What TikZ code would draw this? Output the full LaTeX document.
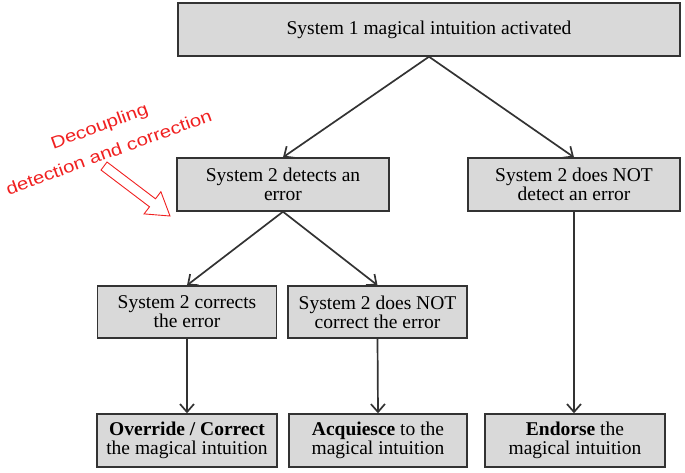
\documentclass[tikz,border=0pt]{standalone}
\usepackage{fontspec}
\setmainfont{Liberation Serif}
\newfontfamily\notefont{Liberation Sans}
\usetikzlibrary{arrows.meta}
\definecolor{boxgray}{HTML}{D9D9D9}
\definecolor{linegray}{HTML}{333333}
\definecolor{notered}{HTML}{F02020}
\begin{document}
\begin{tikzpicture}[x=1pt, y=-1pt,
    box/.style={draw=linegray, line width=1.4pt, fill=boxgray, align=center,
                inner sep=0pt, font=\fontsize{19.5}{19}\selectfont},
    link/.style={draw=linegray, line width=1.7pt, -{Straight Barb[length=8pt,width=14pt]}},
    note/.style={text=notered, align=center, font=\notefont\fontsize{17}{28}\selectfont, rotate=20, xscale=1.2}]
    \useasboundingbox (0,0) rectangle (685,472);
    % boxes
    \node[box, minimum width=502, minimum height=53] (sysone) at (429,29.5) {System 1 magical intuition activated};
    \node[box, minimum width=212, minimum height=53] (detect) at (283,184.5) {System 2 detects an\\error};
    \node[box, minimum width=212, minimum height=53] (nodetect) at (574,184.5) {System 2 does NOT\\detect an error};
    \node[box, minimum width=179, minimum height=52] (correct) at (187,312) {System 2 corrects\\the error};
    \node[box, minimum width=179, minimum height=52] (nocorrect) at (377.5,312) {System 2 does NOT\\correct the error};
    \node[box, minimum width=180, minimum height=53] (override) at (187,440.5) {\textbf{Override / Correct}\\the magical intuition};
    \node[box, minimum width=178, minimum height=53] (acquiesce) at (378,440.5) {\textbf{Acquiesce} to the\\magical intuition};
    \node[box, minimum width=180, minimum height=53] (endorse) at (575,440.5) {\textbf{Endorse} the\\magical intuition};
    % arrows
    \draw[link] (sysone.south) -- (detect.north);
    \draw[link] (sysone.south) -- (nodetect.north);
    \draw[link] (detect.south) -- (correct.north);
    \draw[link] (detect.south) -- (nocorrect.north);
    \draw[link] (correct.south) -- (override.north);
    \draw[link] (nocorrect.south) -- (acquiesce.north);
    \draw[link] (nodetect.south) -- (nodetect.south |- endorse.north);
    % red note
    \node[note] (decoupling) at (104,139) {Decoupling\\detection and correction};
    \draw[notered, line width=0.9pt, line join=miter]
        (101.0,170.0) -- (107.0,162.0) -- (155.5,198.8) -- (160.9,191.7)
        -- (170,216) -- (144.1,213.9) -- (149.5,206.8) -- cycle;
\end{tikzpicture}
\end{document}
